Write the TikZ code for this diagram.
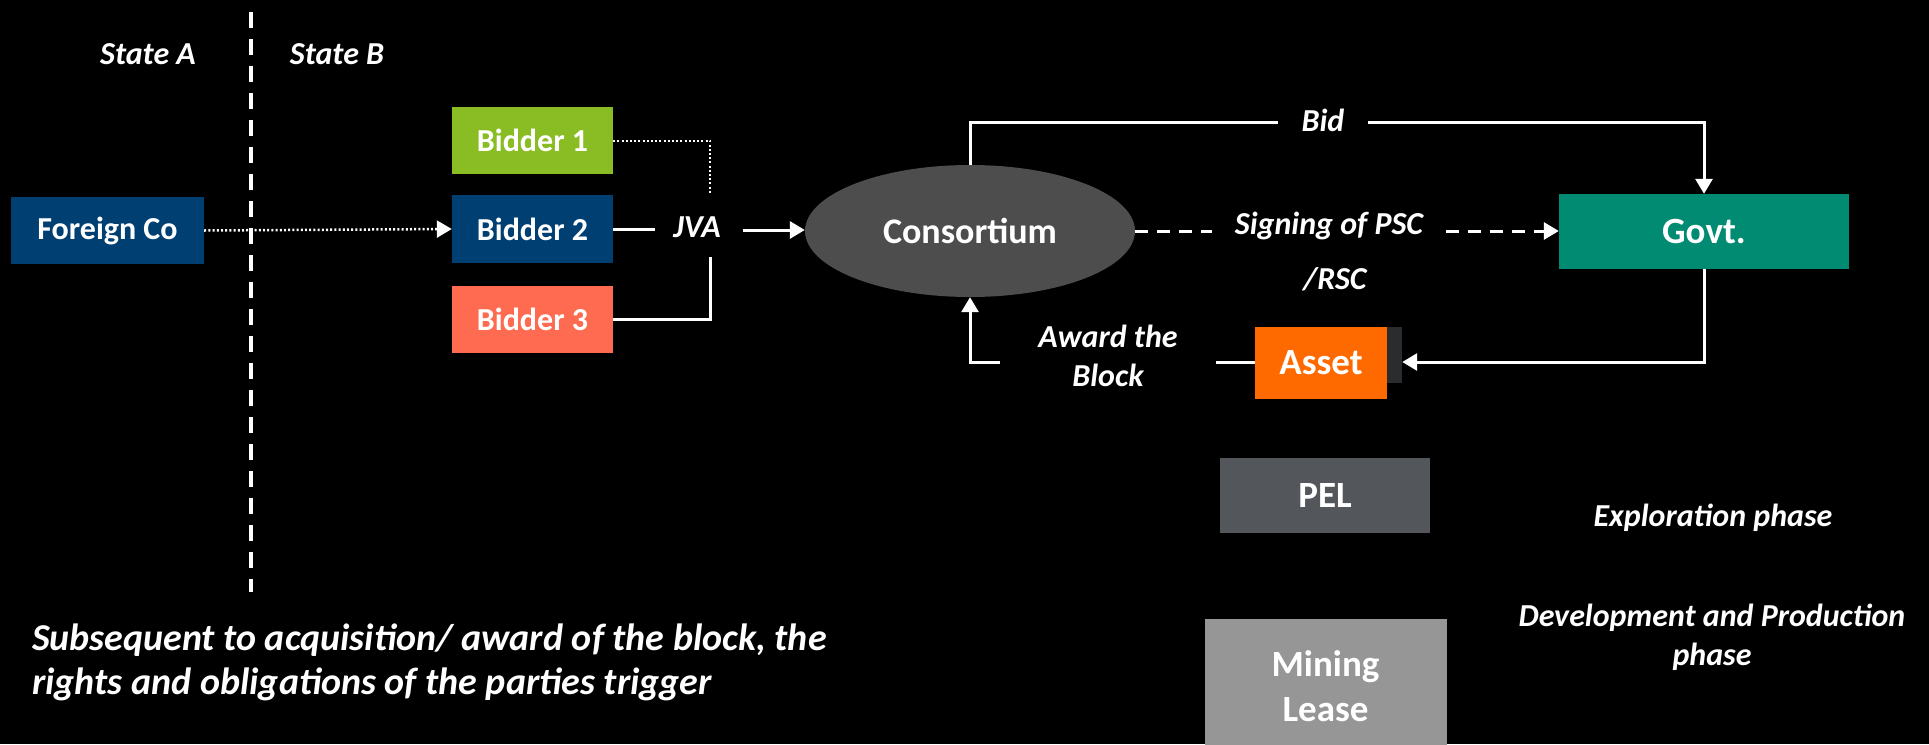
\documentclass[tikz,border=0pt]{standalone}
\usepackage{fontspec}
\setmainfont{Carlito}
\usetikzlibrary{arrows.meta,shapes.geometric}

\definecolor{navy}{HTML}{003F72}
\definecolor{leaf}{HTML}{8ABD24}
\definecolor{salmon}{HTML}{FF6B50}
\definecolor{slate}{HTML}{4D4D4D}
\definecolor{teal}{HTML}{008B72}
\definecolor{tangerine}{HTML}{FF6A00}
\definecolor{coal}{HTML}{2B2C2E}
\definecolor{pelgray}{HTML}{53565A}
\definecolor{leasegray}{HTML}{969696}

\tikzset{
  box/.style={fill=#1, text=white, inner sep=0pt,
    font=\bfseries\fontsize{32}{38}\selectfont, align=center},
  bigbox/.style={box=#1, font=\bfseries\fontsize{37}{45}\selectfont},
  note/.style={text=white, inner sep=0pt,
    font=\bfseries\itshape\fontsize{32}{39}\selectfont, align=center},
  wire/.style={draw=white, line width=3pt},
  dashwire/.style={wire, dash pattern=on 13pt off 9pt},
  tip/.style={-{Triangle[length=15pt,width=17pt]}},
}

\begin{document}
\begin{tikzpicture}[x=1pt,y=-1pt]
  \fill[black] (0,0) rectangle (1929,744);
  \useasboundingbox (0,0) rectangle (1929,744);

  % border between the two states
  \coordinate (sepTop) at (251,12);
  \coordinate (sepBot) at (251,592);
  \draw[white, line width=3.5pt, dash pattern=on 16pt off 11pt] (sepTop) -- (sepBot);
  \node[note] (stA) at (148,54) {State A};
  \node[note] (stB) at (337,54) {State B};

  % parties
  \node[box=navy, minimum width=193pt, minimum height=67pt] (fco) at (107.5,230.5) {Foreign Co};
  \node[box=leaf, minimum width=161pt, minimum height=67pt] (b1) at (532.5,140.5) {Bidder 1};
  \node[box=navy, minimum width=161pt, minimum height=68pt] (b2) at (532.5,229) {Bidder 2};
  \node[box=salmon, minimum width=161pt, minimum height=67pt] (b3) at (532.5,319.5) {Bidder 3};

  \node[note, inner xsep=18pt] (jva) at (697,227) {JVA};
  \coordinate (jvaTop) at (710,194);
  \coordinate (jvaBot) at (710,257);
  \coordinate (jvaOut) at (743,230);

  \node[ellipse, fill=slate, text=white, inner sep=0pt, minimum width=330pt,
        minimum height=132pt, font=\bfseries\fontsize{36}{42}\selectfont] (cons) at (970,231) {Consortium};

  \node[bigbox=teal, minimum width=290pt, minimum height=75pt] (govt) at (1704,231.5) {Govt.};

  \node[fill=coal, minimum width=30pt, minimum height=56pt, inner sep=0pt] (assetbk) at (1387,355) {};
  \node[bigbox=tangerine, minimum width=132pt, minimum height=72pt] (asset) at (1321,363) {Asset};

  \node[bigbox=pelgray, minimum width=210pt, minimum height=75pt] (pel) at (1325,495.5) {PEL};
  \node[bigbox=leasegray, minimum width=242pt, minimum height=134pt] (lease) at (1325.5,686) {Mining\\Lease};

  % labels on the flows
  \node[note, inner xsep=23pt] (bid) at (1323,120) {Bid};
  \node[note, inner xsep=23pt] (sign) at (1329,226) {Signing of PSC};
  \node[note] (rsc) at (1335,279) {/RSC};
  \node[note, inner xsep=38pt] (award) at (1108,356) {Award the\\Block};

  % phases and footnote
  \node[note] (expl) at (1713,518) {Exploration phase};
  \node[note] (dev) at (1712,637) {Development and Production\\phase};
  \node[note, anchor=west, align=left, font=\bfseries\itshape\fontsize{38}{44}\selectfont] (foot) at (32,662)
    {Subsequent to acquisition/ award of the block, the\\rights and obligations of the parties trigger};

  % connectors
  \draw[white, line width=2.5pt, dash pattern=on 2pt off 2.2pt, -{Triangle[length=15pt,width=17pt]}]
    (fco.east) -- (b2.west);
  \draw[white, line width=2pt, dash pattern=on 2pt off 2.2pt] (b1.east) -| (jvaTop);
  \draw[wire] (b2.east) -- (jva.west |- b2.east);
  \draw[wire] (b3.east) -| (jvaBot);
  \draw[wire, tip] (jvaOut) -- (cons.west |- jvaOut);

  \draw[wire] (cons.north) |- (bid.west |- 0,122);
  \draw[wire, tip] (bid.east |- 0,122) -| (govt.north);

  \draw[dashwire] (cons.east) -- (sign.west |- cons.east);
  \draw[dashwire, tip] (sign.east |- cons.east) -- (govt.west |- cons.east);

  \draw[wire, tip] (govt.south) |- (assetbk.east |- 0,362);
  \draw[wire] (asset.west |- 0,362) -- (award.east |- 0,362);
  \draw[wire, tip] (award.west |- 0,362) -| (cons.south);
\end{tikzpicture}
\end{document}
